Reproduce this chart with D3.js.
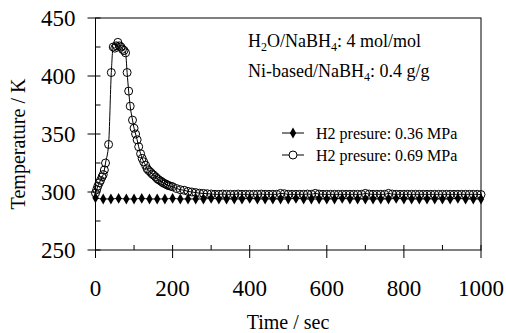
<!DOCTYPE html>
<html>
<head>
<meta charset="utf-8">
<script src="https://cdn.jsdelivr.net/npm/d3@7/dist/d3.min.js"></script>
<style>
  body { margin: 0; background: #fff; }
  svg text { font-family: "Liberation Serif", serif; fill: #000; }
</style>
</head>
<body>
<div id="chart"></div>
<script>
/************************************************************
 * DATA
 ************************************************************/
var seriesNames = ["H2 presure: 0.36 MPa", "H2 presure: 0.69 MPa"];

// 0.36 MPa run (filled diamonds, every 20 s)
var timeLow = [0,20,40,60,80,100,120,140,160,180,200,220,240,260,280,300,320,340,360,380,
               400,420,440,460,480,500,520,540,560,580,600,620,640,660,680,700,720,740,760,780,
               800,820,840,860,880,900,920,940,960,980,1000];
var tempLow = [295,294,294,294.5,294,294,294.5,294,294,294,294.5,294,294,294,294,294.5,294,294,294,294,
               294.5,294,294,294,294,294,294.5,294,294,294,294,294,294.5,294,294,294,294,294,294,294.5,
               294,294,294,294,294,294,294,294.5,294,294,294];

// 0.69 MPa run (open circles)
var timeHigh = [0,3,6,10,13,17,20,23,26,34,41,46,50,54,58,62,66,70,74,78,
                82,86,90,96,100,104,108,112,117,121,125,130,134,138,143,147,151,156,160,164,
                169,173,177,182,186,190,195,200,210,220,230,240,250,260,270,280,290,300,
                310,320,330,340,350,360,370,380,390,400,410,420,430,440,450,460,470,480,490,500,
                510,520,530,540,550,560,570,580,590,600,610,620,630,640,650,660,670,680,690,700,
                710,720,730,740,750,760,770,780,790,800,810,820,830,840,850,860,870,880,890,900,
                910,920,930,940,950,960,970,980,990,1000];
var tempHigh = [299,302,305,308,310,313,315,319,325,341,403,425,424,426,429,426,425,423,422,420,
                403,387,374,362,355,350,345,339,333,329,326,323,320,318.5,317,315.5,314.5,313,311.5,310.5,
                309.5,308.5,307.5,307,306,305.5,305,304.5,303,302,301.5,300.5,300,299.5,299,298.8,298.5,298.3,
                298,298,298.2,298,298,298,298.2,298,298,298,298,298,298.2,298,298,298,298,298.8,298.5,298,
                298,298,298,298,298.2,298,298.8,298.2,298,298,298,298,298,298,298,298,298,298,298,298.8,
                298.2,298,298,298,298,298.8,298.2,298,298,298,298,298,298,298,298,298,298,298,298,298,
                298,298,298,298,298,298,298,298,298,297.8];

var xTicks = [0, 200, 400, 600, 800, 1000];
var xMinor = [100, 300, 500, 700, 900];
var yTicks = [250, 300, 350, 400, 450];
var yMinor = [275, 325, 375, 425];

/************************************************************
 * LAYOUT
 ************************************************************/
var W = 506, H = 333;
var plot = {left: 95.5, right: 481, top: 18, bottom: 250};
var serif = "Liberation Serif";

var svg = d3.select("#chart").append("svg")
    .attr("width", W)
    .attr("height", H)
    .attr("font-family", serif);

var x = d3.scaleLinear().domain([0, 1000]).range([plot.left, plot.right]);
var y = d3.scaleLinear().domain([250, 450]).range([plot.bottom, plot.top]);

// frame
svg.append("rect")
    .attr("x", plot.left).attr("y", plot.top)
    .attr("width", plot.right - plot.left).attr("height", plot.bottom - plot.top)
    .attr("fill", "none").attr("stroke", "#000").attr("stroke-width", 1);

// y ticks: major cross the axis, minor inside only
svg.selectAll(".yMaj").data(yTicks).enter().append("line")
    .attr("x1", plot.left - 8).attr("x2", plot.left + 5)
    .attr("y1", function(d) { return y(d); }).attr("y2", function(d) { return y(d); })
    .attr("stroke", "#000");
svg.selectAll(".yMin").data(yMinor).enter().append("line")
    .attr("x1", plot.left).attr("x2", plot.left + 5)
    .attr("y1", function(d) { return y(d); }).attr("y2", function(d) { return y(d); })
    .attr("stroke", "#000");

// x ticks
svg.selectAll(".xMaj").data(xTicks).enter().append("line")
    .attr("y1", plot.bottom - 5).attr("y2", plot.bottom + 8)
    .attr("x1", function(d) { return x(d); }).attr("x2", function(d) { return x(d); })
    .attr("stroke", "#000");
svg.selectAll(".xMin").data(xMinor).enter().append("line")
    .attr("y1", plot.bottom - 5).attr("y2", plot.bottom)
    .attr("x1", function(d) { return x(d); }).attr("x2", function(d) { return x(d); })
    .attr("stroke", "#000");

// tick labels
svg.selectAll(".yLab").data(yTicks).enter().append("text")
    .attr("x", plot.left - 20).attr("y", function(d) { return y(d); })
    .attr("dy", "0.35em").attr("text-anchor", "end")
    .attr("font-family", serif).style("font-size", "23px")
    .text(function(d) { return d; });
svg.selectAll(".xLab").data(xTicks).enter().append("text")
    .attr("x", function(d) { return x(d); }).attr("y", 296)
    .attr("text-anchor", "middle")
    .attr("font-family", serif).style("font-size", "23px")
    .text(function(d) { return d; });

// axis titles
svg.append("text")
    .attr("transform", "translate(" + [25, 144] + ") rotate(-90)")
    .attr("text-anchor", "middle")
    .attr("font-family", serif).style("font-size", "20px")
    .text("Temperature / K");
svg.append("text")
    .attr("x", 288).attr("y", 329)
    .attr("text-anchor", "middle")
    .attr("font-family", serif).style("font-size", "20px")
    .text("Time / sec");

/************************************************************
 * SERIES
 ************************************************************/
var lowData = timeLow.map(function(t, i) { return {t: t, v: tempLow[i]}; });
var highData = timeHigh.map(function(t, i) { return {t: t, v: tempHigh[i]}; });

var line = d3.line()
    .x(function(d) { return x(d.t); })
    .y(function(d) { return y(d.v); })
    .curve(d3.curveMonotoneX);

var diamond = d3.symbol().type(d3.symbolDiamond).size(34);

svg.append("path").datum(lowData)
    .attr("d", line).attr("fill", "none").attr("stroke", "#000").attr("stroke-width", 1);
svg.selectAll(".dia").data(lowData).enter().append("path")
    .attr("d", diamond)
    .attr("transform", function(d) { return "translate(" + [x(d.t), y(d.v)] + ")"; })
    .attr("fill", "#000");

svg.append("path").datum(highData)
    .attr("d", line).attr("fill", "none").attr("stroke", "#000").attr("stroke-width", 1);
svg.selectAll(".circ").data(highData).enter().append("circle")
    .attr("cx", function(d) { return x(d.t); })
    .attr("cy", function(d) { return y(d.v); })
    .attr("r", 4)
    .attr("fill", "none").attr("stroke", "#000").attr("stroke-width", 1);

/************************************************************
 * ANNOTATIONS + LEGEND
 ************************************************************/
var note1 = svg.append("text").attr("x", 248).attr("y", 47)
    .attr("font-family", serif).style("font-size", "18px");
note1.append("tspan").text("H");
note1.append("tspan").attr("dy", 4).style("font-size", "12px").text("2");
note1.append("tspan").attr("dy", -4).text("O/NaBH");
note1.append("tspan").attr("dy", 4).style("font-size", "12px").text("4");
note1.append("tspan").attr("dy", -4).text(": 4 mol/mol");

var note2 = svg.append("text").attr("x", 248).attr("y", 77)
    .attr("font-family", serif).style("font-size", "18px");
note2.append("tspan").text("Ni-based/NaBH");
note2.append("tspan").attr("dy", 4).style("font-size", "12px").text("4");
note2.append("tspan").attr("dy", -4).text(": 0.4 g/g");

var legend = svg.selectAll(".leg").data(seriesNames).enter().append("g")
    .attr("transform", function(d, i) { return "translate(" + [282, 133 + i * 22] + ")"; });
legend.append("line").attr("x1", 0).attr("x2", 22).attr("stroke", "#000");
legend.filter(function(d, i) { return i === 0; }).append("path")
    .attr("d", diamond).attr("transform", "translate(11,0)").attr("fill", "#000");
legend.filter(function(d, i) { return i === 1; }).append("circle")
    .attr("cx", 11).attr("r", 4).attr("fill", "#fff").attr("stroke", "#000");
legend.append("text")
    .attr("x", 34).attr("dy", "0.35em")
    .attr("font-family", serif).style("font-size", "16px")
    .text(function(d) { return d; });
</script>
</body>
</html>
